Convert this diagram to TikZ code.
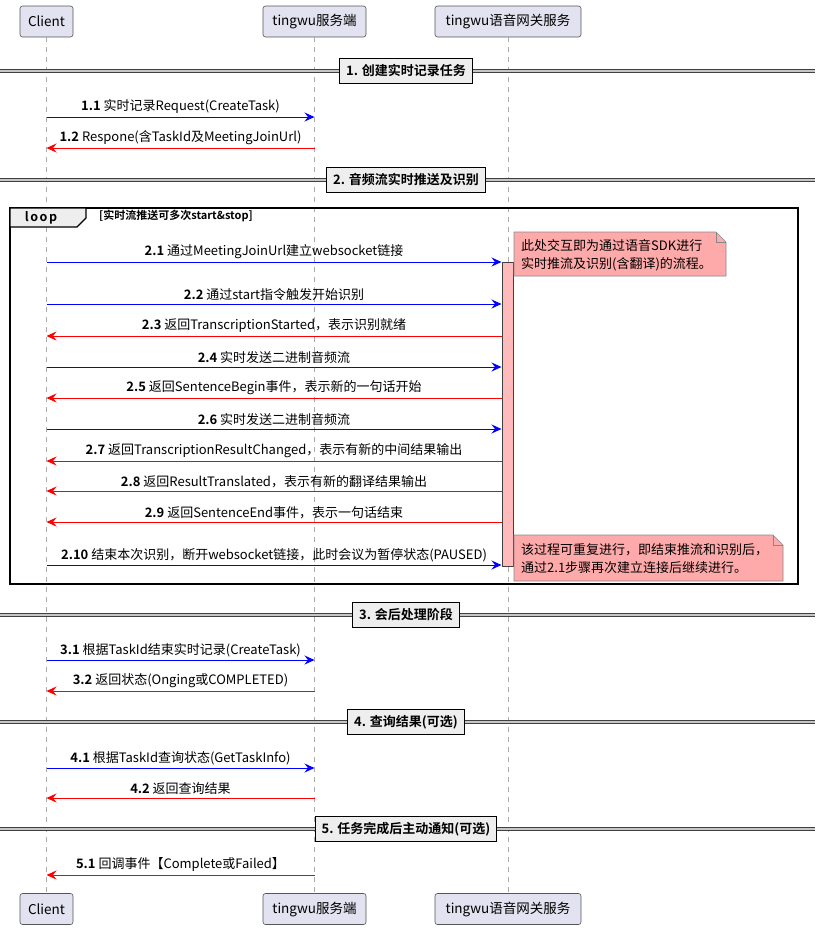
\documentclass[tikz,border=0pt]{standalone}
\usepackage{fontspec}
\setmainfont{Noto Sans CJK SC}[BoldFont={Noto Sans CJK SC Bold}]
\usetikzlibrary{arrows.meta}
\definecolor{partfill}{HTML}{E2E2F0}
\definecolor{partdraw}{HTML}{555555}
\definecolor{notefill}{HTML}{FFAAAA}
\definecolor{notedraw}{HTML}{888888}
\definecolor{actfill}{HTML}{FFBBBB}
\definecolor{secfill}{HTML}{EEEEEE}
\definecolor{lifegray}{HTML}{AAAAAA}
\newcommand\mymsg[6]{%
  \coordinate (#1a) at (#3,#2);
  \coordinate (#1b) at (#4,#2);
  \draw[#5] (#1a) -- (#1b) node[midway,lbl]{#6};}
\newcommand\mysection[3]{%
  \coordinate (#1l) at (0,#2);
  \coordinate (#1r) at (815,#2);
  \draw[secline] (#1l) -- (#1r);
  \node[secbox] (#1box) at (406,#2) {#3};}
\begin{document}
\begin{tikzpicture}[x=1pt,y=-1pt,
  part/.style={draw=partdraw,line width=0.6pt,fill=partfill,rounded corners=2.5pt,minimum height=31pt,inner sep=0pt,font=\fontsize{13.5}{15}\selectfont},
  life/.style={draw=lifegray,line width=0.8pt,dash pattern=on 5pt off 5pt},
  lbl/.style={anchor=south,yshift=2pt,inner sep=1pt,font=\fontsize{13}{14}\selectfont},
  msgb/.style={draw=blue,line width=0.9pt,-{Stealth[length=10pt,width=9pt,inset=3.5pt]}},
  msgr/.style={draw=red,line width=0.9pt,-{Stealth[length=10pt,width=9pt,inset=3.5pt]}},
  secline/.style={draw=black!75,line width=0.8pt,double=gray!45,double distance=1.6pt},
  secbox/.style={draw=black,line width=1.3pt,fill=secfill,minimum height=25pt,inner xsep=6.5pt,inner ysep=0pt,font=\bfseries\fontsize{13}{14}\selectfont},
  notebox/.style={draw=notedraw,line width=0.6pt,fill=notefill},
  notetext/.style={anchor=west,align=left,inner sep=0pt,font=\fontsize{13}{18}\selectfont},
  frame/.style={draw=black,line width=1.4pt},
  actbar/.style={draw=black!75,line width=0.7pt,fill=actfill,inner sep=0pt,anchor=north west,minimum width=11pt}
]
\useasboundingbox[fill=white] (0,0) rectangle (815,930);

% participants
\node[part,minimum width=53pt] (cT) at (46.5,21.5) {Client};
\node[part,minimum width=103pt] (sT) at (314.5,21.5) {tingwu服务端};
\node[part,minimum width=146pt] (gT) at (508,21.5) {tingwu语音网关服务};
\node[part,minimum width=53pt] (cB) at (46.5,909) {Client};
\node[part,minimum width=103pt] (sB) at (314.5,909) {tingwu服务端};
\node[part,minimum width=146pt] (gB) at (508,909) {tingwu语音网关服务};

% lifelines
\draw[life] (cT.south) -- (cB.north);
\draw[life] (sT.south) -- (sB.north);
\draw[life] (gT.south) -- (gB.north);

% section 1
\mysection{s1}{71}{1. 创建实时记录任务}
\mymsg{m11}{117}{46.5}{314.5}{msgb}{\textbf{1.1} 实时记录Request(CreateTask)}
\mymsg{m12}{148}{314.5}{46.5}{msgr}{\textbf{1.2} Respone(含TaskId及MeetingJoinUrl)}

% section 2
\mysection{s2}{180}{2. 音频流实时推送及识别}

% loop frame
\draw[frame] (10,208) rectangle (798,584);
\draw[frame,fill=secfill,line width=1.1pt] (10,208) -- (86,208) -- (86,218) -- (77,227) -- (10,227) -- cycle;
\node[font=\bfseries\fontsize{12.5}{13}\selectfont,inner sep=0pt] (looplbl) at (41,217.5) {l\kern1.5pt o\kern1.5pt o\kern1.5pt p};
\node[anchor=west,inner sep=0pt,font=\bfseries\fontsize{11}{12}\selectfont] (guard) at (99,216) {[实时流推送可多次start\&stop]};

% activation bar
\node[actbar,minimum height=304pt] (act) at (501.5,262) {};

% note 1
\draw[notebox] (514,232) -- (716,232) -- (726,242) -- (726,276) -- (514,276) -- cycle;
\draw[notedraw,line width=0.6pt] (716,232) -- (716,242) -- (726,242);
\node[notetext] (n1) at (521,255) {此处交互即为通过语音SDK进行\\实时推流及识别(含翻译)的流程。};

\mymsg{m21}{262}{46.5}{501.5}{msgb}{\textbf{2.1} 通过MeetingJoinUrl建立websocket链接}
\mymsg{m22}{304}{46.5}{501.5}{msgb}{\textbf{2.2} 通过start指令触发开始识别}
\mymsg{m23}{336}{501.5}{46.5}{msgr}{\textbf{2.3} 返回TranscriptionStarted，表示识别就绪}
\mymsg{m24}{367}{46.5}{501.5}{msgb}{\textbf{2.4} 实时发送二进制音频流}
\mymsg{m25}{398}{501.5}{46.5}{msgr}{\textbf{2.5} 返回SentenceBegin事件，表示新的一句话开始}
\mymsg{m26}{429}{46.5}{501.5}{msgb}{\textbf{2.6} 实时发送二进制音频流}
\mymsg{m27}{461}{501.5}{46.5}{msgr}{\textbf{2.7} 返回TranscriptionResultChanged，表示有新的中间结果输出}
\mymsg{m28}{491}{501.5}{46.5}{msgr}{\textbf{2.8} 返回ResultTranslated，表示有新的翻译结果输出}
\mymsg{m29}{522}{501.5}{46.5}{msgr}{\textbf{2.9} 返回SentenceEnd事件，表示一句话结束}
\mymsg{m210}{565}{46.5}{501.5}{msgb}{\textbf{2.10} 结束本次识别，断开websocket链接，此时会议为暂停状态(PAUSED)}

% note 2
\draw[notebox] (514,535) -- (773,535) -- (783,545) -- (783,581) -- (514,581) -- cycle;
\draw[notedraw,line width=0.6pt] (773,535) -- (773,545) -- (783,545);
\node[notetext] (n2) at (521,558.5) {该过程可重复进行，即结束推流和识别后，\\通过2.1步骤再次建立连接后继续进行。};

% section 3
\mysection{s3}{615}{3. 会后处理阶段}
\mymsg{m31}{660}{46.5}{314.5}{msgb}{\textbf{3.1} 根据TaskId结束实时记录(CreateTask)}
\mymsg{m32}{691}{314.5}{46.5}{msgr}{\textbf{3.2} 返回状态(Onging或COMPLETED)}

% section 4
\mysection{s4}{722}{4. 查询结果(可选)}
\mymsg{m41}{768}{46.5}{314.5}{msgb}{\textbf{4.1} 根据TaskId查询状态(GetTaskInfo)}
\mymsg{m42}{798}{314.5}{46.5}{msgr}{\textbf{4.2} 返回查询结果}

% section 5
\mysection{s5}{829}{5. 任务完成后主动通知(可选)}
\mymsg{m51}{875}{314.5}{46.5}{msgr}{\textbf{5.1} 回调事件【Complete或Failed】}
\end{tikzpicture}
\end{document}
